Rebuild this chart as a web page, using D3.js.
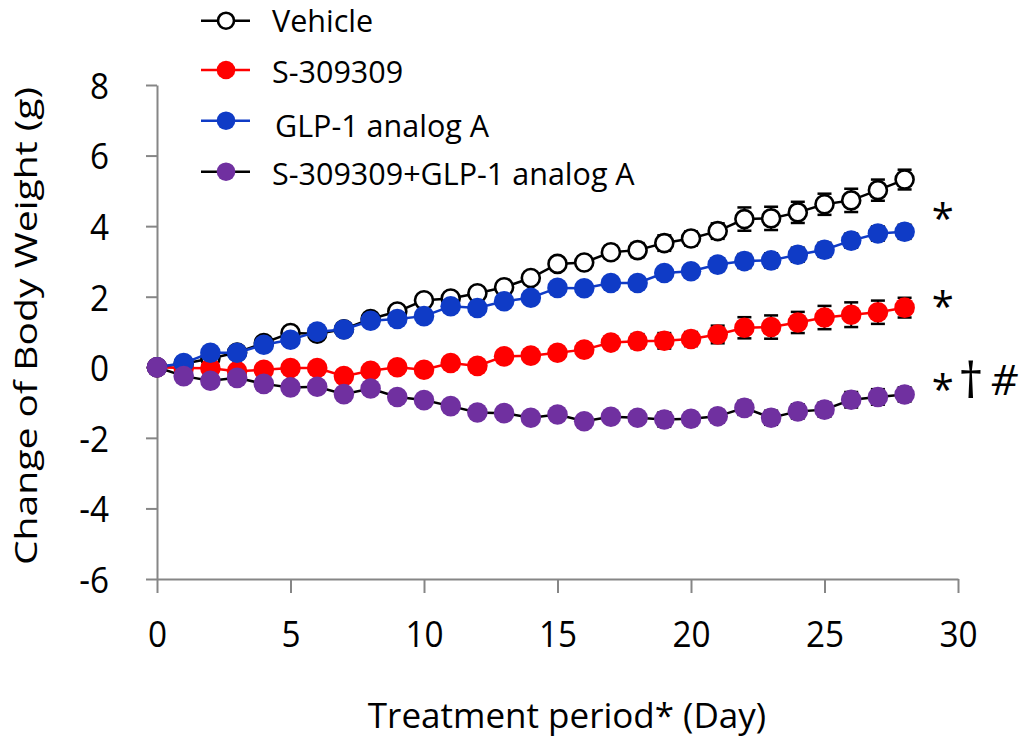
<!DOCTYPE html>
<html><head><meta charset="utf-8">
<script src="https://cdn.jsdelivr.net/npm/d3@7"></script>
<style>body{margin:0;background:#fff}svg{display:block}text{font-family:"Open Sans","Noto Sans",sans-serif;fill:#000}</style>
</head><body>
<script>
const days = d3.range(0, 29);
const seriesNames = ["Vehicle", "S-309309", "GLP-1 analog A", "S-309309+GLP-1 analog A"];
const vehicle = [0,0.1,0.25,0.42,0.69,0.97,0.95,1.08,1.37,1.58,1.9,1.95,2.1,2.27,2.53,2.93,2.97,3.26,3.32,3.52,3.65,3.86,4.2,4.22,4.39,4.62,4.73,5.02,5.32];
const s309309 = [0,-0.02,-0.03,-0.11,-0.07,-0.02,-0.02,-0.25,-0.1,0.0,-0.07,0.12,0.04,0.31,0.33,0.41,0.5,0.7,0.74,0.75,0.8,0.93,1.12,1.14,1.27,1.41,1.49,1.56,1.69];
const glp1 = [0,0.12,0.41,0.41,0.64,0.78,1.01,1.07,1.32,1.37,1.45,1.73,1.68,1.87,1.97,2.25,2.24,2.39,2.39,2.67,2.72,2.91,3.01,3.03,3.19,3.33,3.59,3.79,3.84];
const combo = [0,-0.25,-0.38,-0.3,-0.47,-0.57,-0.55,-0.76,-0.6,-0.84,-0.93,-1.1,-1.28,-1.3,-1.43,-1.34,-1.53,-1.4,-1.43,-1.48,-1.46,-1.39,-1.15,-1.43,-1.25,-1.2,-0.92,-0.84,-0.77];
const vehicleErr = [0,0.06,0.07,0.08,0.09,0.1,0.1,0.1,0.12,0.12,0.13,0.13,0.14,0.15,0.15,0.16,0.17,0.18,0.2,0.22,0.2,0.22,0.33,0.33,0.3,0.3,0.33,0.3,0.28];
const s309309Err = [0,0.05,0.06,0.07,0.08,0.08,0.09,0.1,0.1,0.12,0.12,0.13,0.14,0.15,0.15,0.16,0.17,0.18,0.2,0.22,0.2,0.25,0.3,0.33,0.3,0.33,0.35,0.33,0.28];
const glp1Err = [0,0.05,0.06,0.06,0.07,0.08,0.08,0.09,0.1,0.1,0.11,0.12,0.12,0.13,0.13,0.14,0.14,0.15,0.15,0.16,0.16,0.18,0.2,0.2,0.2,0.2,0.2,0.2,0.2];
const comboErr = [0,0.05,0.06,0.06,0.07,0.08,0.08,0.09,0.1,0.1,0.11,0.12,0.12,0.13,0.13,0.14,0.15,0.15,0.16,0.2,0.18,0.18,0.2,0.2,0.2,0.2,0.22,0.22,0.2];
const xTicks = [0,5,10,15,20,25,30];
const yTicks = [-6,-4,-2,0,2,4,6,8];
const annotations = [
  {x:942.7, y:233, text:"*", size:40},
  {x:942.7, y:321, text:"*", size:40},
  {x:942.7, y:404, text:"*", size:40},
  {x:971, y:398, text:"\u2020", size:50},
  {x:1004, y:395, text:"#", size:42, italic:true}
];

const series = [
  {name: seriesNames[0], values: vehicle, err: vehicleErr, line:"#000", fill:"#fff", stroke:"#000"},
  {name: seriesNames[1], values: s309309, err: s309309Err, line:"#ff0000", fill:"#ff0000", stroke:"#ff0000"},
  {name: seriesNames[2], values: glp1, err: glp1Err, line:"#0f3bc6", fill:"#0f3bc6", stroke:"#0f3bc6"},
  {name: seriesNames[3], values: combo, err: comboErr, line:"#000", fill:"#7030a0", stroke:"#7030a0"}
];

const W = 1019, H = 738;
const svg = d3.select("body").append("svg").attr("width", W).attr("height", H);
const x = d3.scaleLinear().domain([0,30]).range([157,958]);
const y = d3.scaleLinear().domain([-6,8]).range([579,85]);

// axes
const gx = svg.append("g").attr("transform", `translate(0,${y(-6)})`)
  .call(d3.axisBottom(x).tickValues(xTicks).tickFormat(d=>String(d)).tickSize(14).tickPadding(28).tickSizeOuter(0));
const gy = svg.append("g").attr("transform", `translate(${x(0)},0)`)
  .call(d3.axisLeft(y).tickValues(yTicks).tickFormat(d=>String(d)).tickSize(11).tickSizeOuter(0));
[gx, gy].forEach(g => {
  g.select(".domain").attr("stroke", "#868686").attr("stroke-width", 2);
  g.selectAll(".tick line").attr("stroke", "#868686").attr("stroke-width", 2);
  g.selectAll(".tick text").style("font-size", "37px").attr("fill", "#000");
});
gx.selectAll(".tick text").attr("transform", "scale(0.9,1)");
gy.selectAll(".tick text").attr("x", 0).attr("dy", "0.36em").attr("transform", "translate(-48,0) scale(0.9,1)");

svg.append("text").attr("x", 567).attr("y", 728).attr("text-anchor","middle")
  .style("font-size","35px").text("Treatment period* (Day)");
svg.append("text").attr("transform", `translate(37,326) rotate(-90)`).attr("text-anchor","middle")
  .attr("textLength", 478).attr("lengthAdjust", "spacingAndGlyphs")
  .style("font-size","31px").text("Change of Body Weight (g)");

const R = 10.3;
const line = d3.line().x((d,i)=>x(days[i])).y(d=>y(d));
series.forEach(s => {
  const g = svg.append("g");
  g.append("path").attr("d", line(s.values)).attr("fill","none").attr("stroke", s.line).attr("stroke-width", 2.5);
  const eb = g.append("g");
  s.values.forEach((v,i) => {
    if (!s.err[i]) return;
    const cx = x(days[i]), y1 = y(v + s.err[i]), y2 = y(v - s.err[i]);
    eb.append("line").attr("x1",cx).attr("x2",cx).attr("y1",y1).attr("y2",y2).attr("stroke","#000").attr("stroke-width",2);
    eb.append("line").attr("x1",cx-7).attr("x2",cx+7).attr("y1",y1).attr("y2",y1).attr("stroke","#000").attr("stroke-width",2.5);
    eb.append("line").attr("x1",cx-7).attr("x2",cx+7).attr("y1",y2).attr("y2",y2).attr("stroke","#000").attr("stroke-width",2.5);
  });
  g.selectAll("circle").data(s.values).join("circle")
    .attr("cx",(d,i)=>x(days[i])).attr("cy",d=>y(d))
    .attr("r", s.fill === "#fff" ? R - 1.3 : R)
    .attr("fill", s.fill).attr("stroke", s.stroke).attr("stroke-width", s.fill === "#fff" ? 2.6 : 0);
});

// annotations
annotations.forEach(a => {
  svg.append("text").attr("x", a.x).attr("y", a.y).attr("text-anchor","middle")
    .style("font-size", a.size + "px").style("font-style", a.italic ? "italic" : "normal").text(a.text);
});

// legend
const legMarkY = [20.7, 70, 120.7, 171.7];
const legTextY = [21, 72.5, 126, 174];
series.forEach((s,i) => {
  const g = svg.append("g");
  g.append("line").attr("x1",201).attr("x2",250).attr("y1",legMarkY[i]).attr("y2",legMarkY[i]).attr("stroke", s.line).attr("stroke-width",2.5);
  g.append("circle").attr("cx",226).attr("cy",legMarkY[i]).attr("r", s.fill === "#fff" ? 9.3 - 1.3 : 9.3).attr("fill", s.fill)
    .attr("stroke", s.stroke).attr("stroke-width", s.fill === "#fff" ? 2.6 : 0);
  g.append("text").attr("x", i===2 ? 275 : 272).attr("y", legTextY[i]).attr("dy","0.36em").style("font-size","30.5px").text(s.name);
});
</script>
</body></html>
